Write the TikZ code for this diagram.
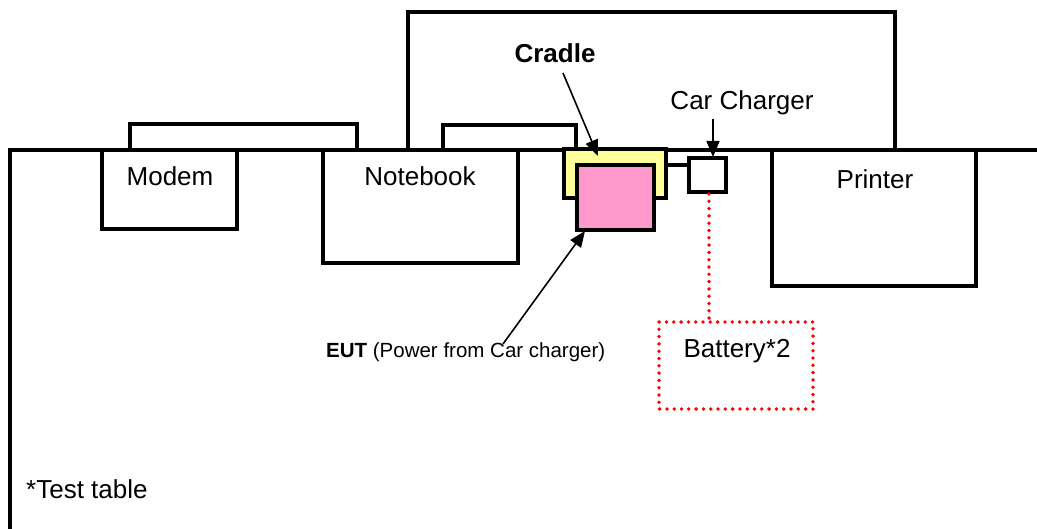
\documentclass[tikz,border=0pt]{standalone}
\usepackage{fontspec}
\setmainfont{Liberation Sans}
\usetikzlibrary{arrows.meta}
\definecolor{cradleyellow}{HTML}{FFFF99}
\definecolor{eutpink}{HTML}{FF99CC}
\begin{document}
\begin{tikzpicture}[x=1pt,y=-1pt,
  box/.style={draw, line width=3.5pt, fill=white, inner sep=0pt, outer sep=0pt, anchor=north west},
  lbl/.style={font=\fontsize{26}{30}\selectfont, inner sep=0pt},
  small/.style={font=\fontsize{20.5}{24}\selectfont, inner sep=0pt},
  arr/.style={line width=1.6pt, -{Triangle[length=16pt,width=13pt]}},
  reddots/.style={draw=red, line width=3.8pt, line cap=round, dash pattern=on 0pt off 7.3pt}]
\useasboundingbox (0,0) rectangle (1037,529);
% table
\draw[line width=4pt] (10,529) -- (10,150) -- (1037,150);
% back shelf
\draw[line width=3.5pt] (408,150) -- (408,12) -- (895,12) -- (895,150);
% monitors
\node[box, minimum width=227pt, minimum height=26pt] (modemmon) at (130,124) {};
\node[box, minimum width=133pt, minimum height=25pt] (nbscreen) at (443,125) {};
% devices
\node[box, minimum width=135pt, minimum height=79pt] (modem) at (102,150) {};
\node[box, minimum width=195pt, minimum height=113pt] (notebook) at (323,150) {};
\node[box, minimum width=204pt, minimum height=136pt] (printer) at (772,150) {};
\node[box, fill=cradleyellow, minimum width=102pt, minimum height=49pt] (cradle) at (564,149) {};
\node[box, fill=eutpink, minimum width=77pt, minimum height=65pt] (eut) at (577,165) {};
\node[box, minimum width=37pt, minimum height=34pt] (charger) at (689,158) {};
\node[draw=none, inner sep=0pt, outer sep=0pt, anchor=north west, minimum width=154pt, minimum height=87pt] (battery) at (659,322) {};
\draw[reddots] (battery.north west) rectangle (battery.south east);
% cradle to charger cable
\coordinate (cc) at (689,165);
\draw[line width=3.5pt] (cc -| cradle.east) -- (cc);
% labels
\node[lbl, anchor=base] (modemtxt) at (170,186) {Modem};
\node[lbl, anchor=base] (nbtxt) at (420,186) {Notebook};
\node[lbl, anchor=base] (printertxt) at (875,189) {Printer};
\node[lbl, anchor=base, font=\fontsize{26}{30}\selectfont\bfseries] (cradletxt) at (555,63) {Cradle};
\node[lbl, anchor=base] (chargertxt) at (742,110) {Car Charger};
\node[lbl, anchor=base] (batterytxt) at (737,358) {Battery*2};
\node[small, anchor=base west] (euttxt) at (326,358) {\textbf{EUT} (Power from Car charger)};
\node[lbl, anchor=base west] (tabletxt) at (26,498) {*Test table};
% arrows
\coordinate (cradlestart) at (563,73);
\coordinate (cradletip) at (598,156);
\draw[arr] (cradlestart) -- (cradletip);
\coordinate (chgstart) at (713,119);
\coordinate (chgtip) at (713,157);
\draw[arr] (chgstart) -- (chgtip);
\coordinate (eutstart) at (503,344);
\coordinate (euttip) at (585,231);
\draw[arr] (eutstart) -- (euttip);
% dotted link charger - battery
\coordinate (dtop) at (709,194);
\coordinate (dbot) at (709,322);
\draw[reddots] (dtop) -- (dbot);
\end{tikzpicture}
\end{document}
